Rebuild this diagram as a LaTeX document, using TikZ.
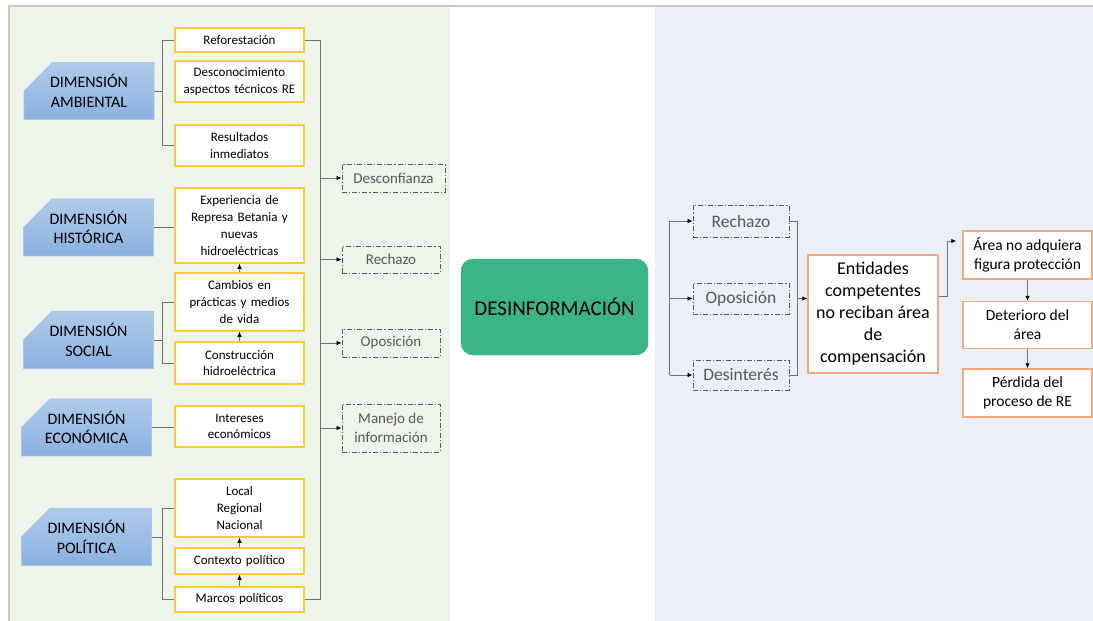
\documentclass[tikz,border=0pt]{standalone}
\usepackage{fontspec}
\setmainfont{Carlito}
\usetikzlibrary{positioning, arrows.meta, shapes.misc}

\definecolor{greenpanel}{HTML}{EEF4E9}
\definecolor{bluepanel}{HTML}{EBEFF7}
\definecolor{dimtop}{HTML}{AECAEA}
\definecolor{dimbot}{HTML}{8BB1E0}
\definecolor{dimbord}{HTML}{A6C6EA}
\definecolor{ybord}{HTML}{FFCB3A}
\definecolor{obord}{HTML}{F2A97F}
\definecolor{desgreen}{HTML}{3BB486}

\begin{document}
\begin{tikzpicture}[
  x=1pt, y=-1pt,
  dim/.style={chamfered rectangle, chamfered rectangle corners=north west,
    chamfered rectangle xsep=26pt, chamfered rectangle ysep=12pt,
    top color=dimtop, bottom color=dimbot, draw=dimbord, line width=0.8pt,
    minimum width=130pt, minimum height=56pt, inner sep=0pt, align=center,
    font=\fontsize{16}{19.5}\selectfont},
  ybox/.style={draw=ybord, line width=1.5pt, fill=white, align=center, text width=126pt,
    inner sep=0pt, minimum width=129pt, font=\fontsize{13}{16.7}\selectfont},
  dbox/.style={draw=black!65, line width=0.9pt, dash pattern=on 5pt off 2pt on 1.2pt off 2pt,
    text=black!65, align=center, inner sep=0pt, font=\fontsize{15}{19.3}\selectfont},
  obox/.style={draw=obord, line width=1.5pt, fill=white, align=center, inner sep=0pt,
    minimum width=129pt, font=\fontsize{15.5}{19.3}\selectfont},
  link/.style={draw=black!55, line width=0.8pt},
  arr/.style={link, -{Latex[length=5pt, width=4.5pt, color=black]}}]
\useasboundingbox (0,0) rectangle (1093,621);
% panels
\fill[greenpanel] (10,7) rectangle (450,621);
\fill[bluepanel] (655,7) rectangle (1093,621);
\draw[black!22, line width=1.5pt] (8,6) -- (1093,6);
\draw[black!22, line width=1.5pt] (9,6) -- (9,621);

% dimensiones
\node[dim] (amb) at (89,91) {DIMENSIÓN\\AMBIENTAL};
\node[dim] (his) at (88.5,227.5) {DIMENSIÓN\\HISTÓRICA};
\node[dim] (soc) at (88.5,340) {DIMENSIÓN\\SOCIAL};
\node[dim] (eco) at (86.5,427.5) {DIMENSIÓN\\ECONÓMICA};
\node[dim] (pol) at (86.5,537) {DIMENSIÓN\\POLÍTICA};

% factores
\node[ybox, minimum height=24pt] (refo) at (239.5,40) {Reforestación};
\node[ybox, minimum height=41pt] (desc) at (239.5,81.5) {Desconocimiento\\aspectos técnicos RE};
\node[ybox, minimum height=41pt] (resu) at (239.5,145.5) {Resultados\\inmediatos};
\node[ybox, minimum height=75pt] (expe) at (239.5,225.5) {Experiencia de\\Represa Betania y\\nuevas\\hidroeléctricas};
\node[ybox, minimum height=58pt] (camb) at (239.5,302) {Cambios en\\prácticas y medios\\de vida};
\node[ybox, minimum height=42pt] (cons) at (239.5,363) {Construcción\\hidroeléctrica};
\node[ybox, minimum height=41pt] (inte) at (239.5,426.5) {Intereses\\económicos};
\node[ybox, minimum height=58pt] (loca) at (239.5,508) {Local\\Regional\\Nacional};
\node[ybox, minimum height=26pt] (cont) at (239.5,561) {Contexto político};
\node[ybox, minimum height=25pt] (marc) at (239.5,599.5) {Marcos políticos};

% efectos
\node[dbox, minimum width=103pt, minimum height=28pt] (desconf) at (393.5,178) {Desconfianza};
\node[dbox, minimum width=98pt, minimum height=27pt] (rech) at (391,259.5) {Rechazo};
\node[dbox, minimum width=98pt, minimum height=28pt] (opos) at (391,343) {Oposición};
\node[dbox, minimum width=98pt, minimum height=48pt] (mane) at (391,428) {Manejo de\\información};

\node[draw=desgreen, fill=desgreen, rounded corners=12pt, minimum width=187pt, minimum height=96pt,
  font=\fontsize{21}{24}\selectfont] (desinf) at (554.5,307) {DESINFORMACIÓN};

% consecuencias
\node[dbox, minimum width=96pt, minimum height=32pt, font=\fontsize{17.5}{21}\selectfont] (rech2) at (741,221) {Rechazo};
\node[dbox, minimum width=96pt, minimum height=31pt, font=\fontsize{17.5}{21}\selectfont] (opos2) at (741,298.5) {Oposición};
\node[dbox, minimum width=96pt, minimum height=30pt, font=\fontsize{17.5}{21}\selectfont] (desint) at (741,375) {Desinterés};
\node[obox, minimum width=130pt, minimum height=118pt, font=\fontsize{18}{22}\selectfont] (ent) at (873,314) {Entidades\\competentes\\no reciban área\\de\\compensación};
\node[obox, minimum height=48pt] (area) at (1027.5,255) {Área no adquiera\\figura protección};
\node[obox, minimum height=47pt, below=21pt of area] (dete) {Deterioro del\\área};
\node[obox, minimum height=48pt, below=19pt of dete] (perd) {Pérdida del\\proceso de RE};

% conectores izquierda
\draw[link] (refo.west) -- ++(-12,0) |- (resu.west);
\draw[link] (camb.west) -- ++(-12,0) |- (cons.west);
\draw[link] (loca.west) -- ++(-12,0) |- (marc.west);
\foreach \d/\b in {amb/refo, soc/camb, pol/loca} \draw[link] (\d.east) -- ([xshift=-12pt]\b.west |- \d.east);
\draw[link] (his.east) -- (his.east -| expe.west);
\draw[link] (eco.east) -- (eco.east -| inte.west);
\foreach \a/\b in {cons/camb, camb/expe, marc/cont, cont/loca} \draw[arr] (\a.north) -- (\b.south);
\draw[link] (refo.east) -- ++(16,0) coordinate (rb) |- (marc.east);
\foreach \e in {desconf, rech, opos, mane} \draw[arr] (rb |- \e.west) -- (\e.west);

% conectores derecha
\draw[link] (rech2.west) ++(-23,0) coordinate (lb) -- (lb |- desint.west);
\foreach \e in {rech2, opos2, desint} \draw[arr] (lb |- \e.west) -- (\e.west);
\draw[link] (rech2.east) -- ++(8,0) coordinate (rb2) |- (desint.east);
\draw[arr] (rb2 |- opos2.east) -- (opos2.east -| ent.west);
\draw[arr] ([yshift=18pt]ent.east) -- ++(9,0) |- ([xshift=-6pt, yshift=14pt]area.west);
\foreach \a/\b in {area/dete, dete/perd} \draw[arr] (\a.south) -- (\b.north);
\end{tikzpicture}
\end{document}
